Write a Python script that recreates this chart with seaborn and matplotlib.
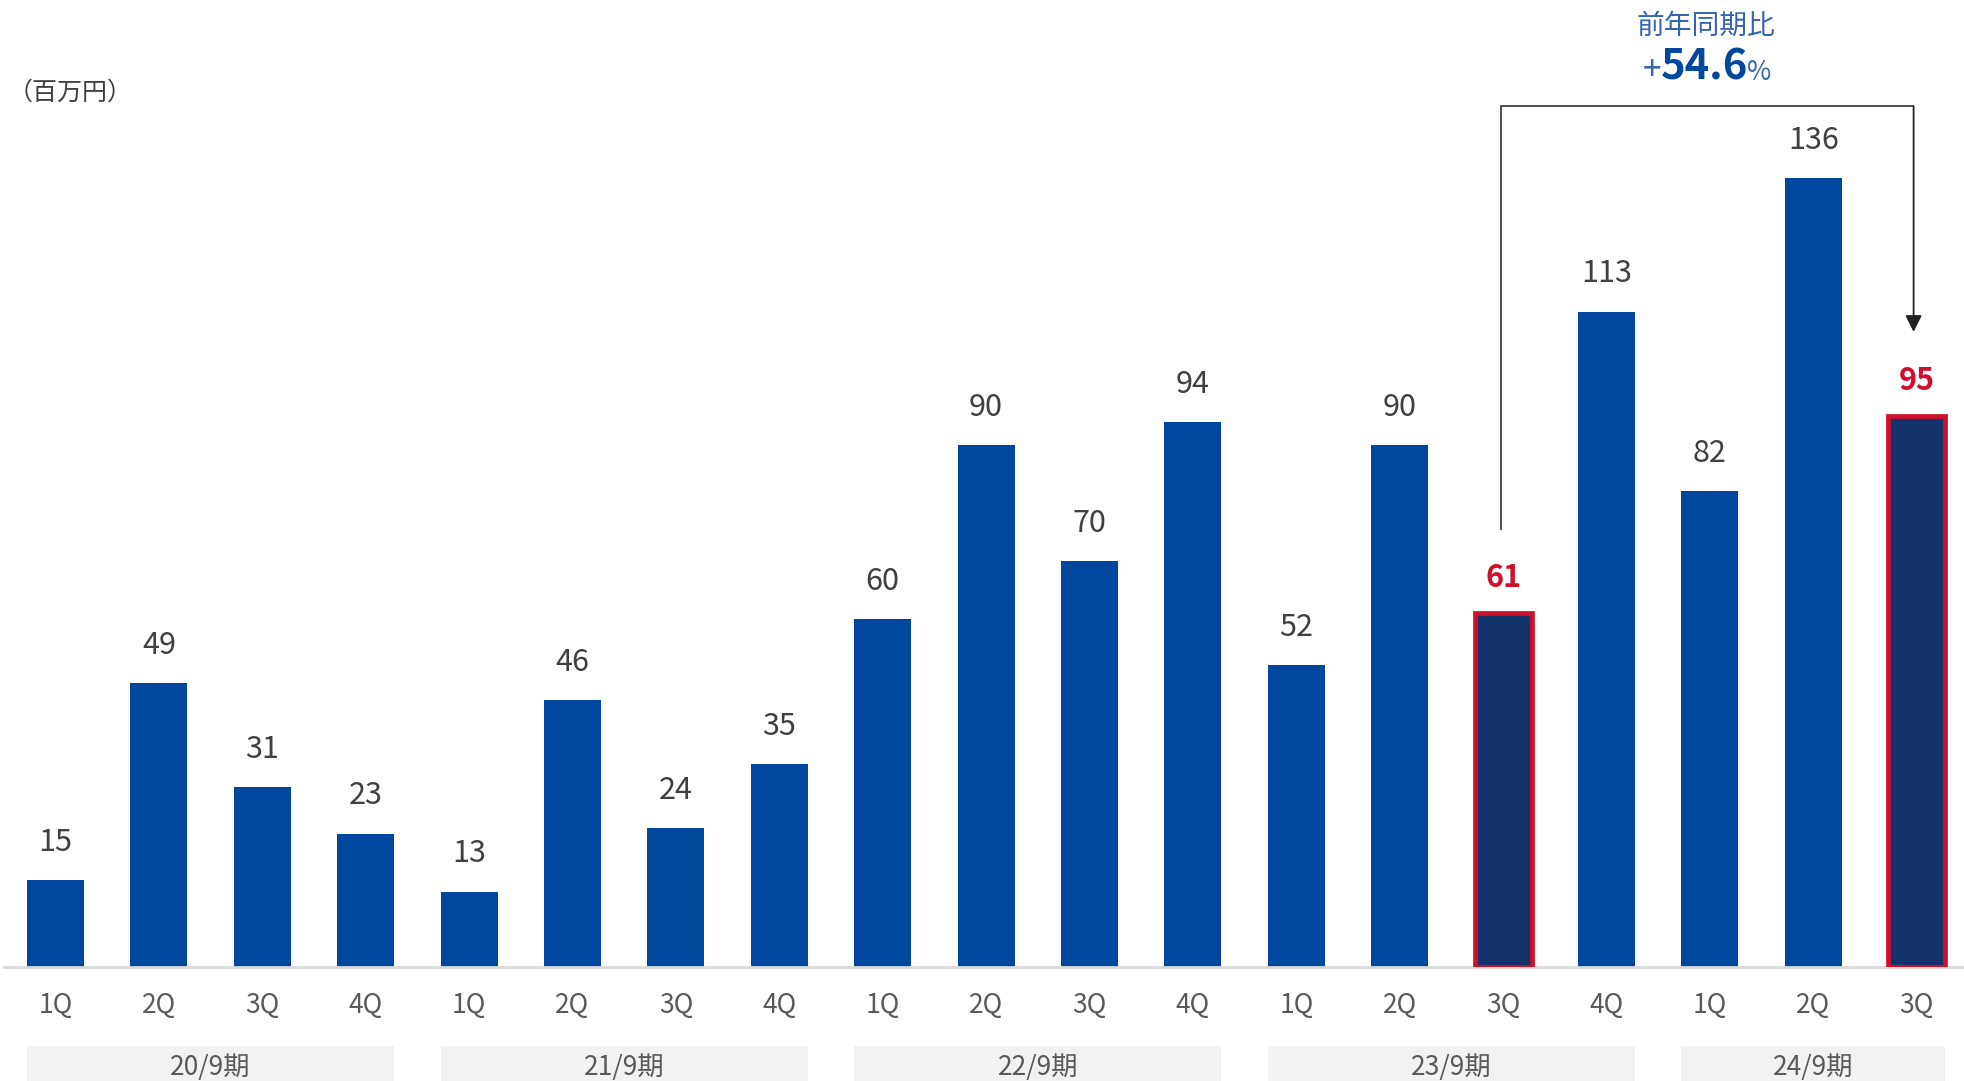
import numpy as np
import pandas as pd
import seaborn as sns
import matplotlib.pyplot as plt
import matplotlib.patches as mpatches

# ---------------- data ----------------
periods = ["20/9期", "21/9期", "22/9期", "23/9期", "24/9期"]
period_counts = [4, 4, 4, 4, 3]
quarters = ["1Q", "2Q", "3Q", "4Q"] * 4 + ["1Q", "2Q", "3Q"]
values = [15, 49, 31, 23, 13, 46, 24, 35, 60, 90, 70, 94, 52, 90, 61, 113, 82, 136, 95]
highlight = [False] * 14 + [True] + [False] * 3 + [True]
unit_label = "（百万円）"
yoy_title = "前年同期比"
yoy_value = "54.6"

# ---------------- style ----------------
sns.set_style("white")
plt.rcParams["font.family"] = ["Noto Sans CJK JP", "DejaVu Sans"]

BLUE = "#00479D"
NAVY = "#13336B"
RED = "#D0102B"
LIGHTBLUE = "#3565AE"
TEXT = "#404040"
TICK = "#595959"

keys = []
for p, n in zip(periods, period_counts):
    for q in ["1Q", "2Q", "3Q", "4Q"][:n]:
        keys.append(f"{p} {q}")
df = pd.DataFrame({"key": keys, "value": values,
                   "hl": ["hl" if h else "normal" for h in highlight]})

W, H = 1964, 1081
fig = plt.figure(figsize=(W / 100, H / 100), dpi=100)
base_px = 967
px_per_unit = 5.8
spacing = 103.4
left_px = 4
ax = fig.add_axes([left_px / W, 1 - base_px / H, 1 - left_px / W, base_px / H])

sns.barplot(data=df, x="key", y="value", hue="hl", order=keys,
            palette={"normal": BLUE, "hl": NAVY}, dodge=False, width=0.55,
            saturation=1, legend=False, ax=ax)

for p in ax.patches:
    if not np.isfinite(p.get_height()):
        continue
    i = int(round(p.get_x() + p.get_width() / 2))
    if highlight[i]:
        p.set_edgecolor(RED)
        p.set_linewidth(3.4)
        p.set_zorder(3)
    else:
        p.set_linewidth(0)

x0 = -(55.5 - left_px) / spacing
ax.set_xlim(x0, x0 + (W - left_px) / spacing)
ax.set_ylim(0, base_px / px_per_unit)

# value labels
for i, v in enumerate(values):
    if highlight[i]:
        ax.annotate(str(v), (i, v), xytext=(0, 19), textcoords="offset points",
                    ha="center", va="baseline", fontsize=22, color=RED,
                    fontweight="bold")
    else:
        ax.annotate(str(v), (i, v), xytext=(0, 21), textcoords="offset points",
                    ha="center", va="baseline", fontsize=22, color=TEXT)

# axes styling
ax.set_xticks(range(len(values)))
ax.set_xticklabels(quarters, fontsize=19, color=TICK)
ax.tick_params(axis="x", length=0, pad=18)
ax.set_yticks([])
ax.set_xlabel("")
ax.set_ylabel("")
for s in ["left", "right", "top"]:
    ax.spines[s].set_visible(False)
ax.spines["bottom"].set_color("#D9D9D9")
ax.spines["bottom"].set_linewidth(2)

# period group bands
start = 0
for p, n in zip(periods, period_counts):
    x_left = start - 0.275
    width = (n - 1) + 0.55
    rect = mpatches.Rectangle((x_left, -22), width, 22 - 13.6,
                              facecolor="#F2F2F2", edgecolor="none",
                              clip_on=False, zorder=0)
    ax.add_patch(rect)
    ax.text(start + (n - 1) / 2, -18.6, p, ha="center", va="baseline",
            fontsize=19, color=TICK, clip_on=False)
    start += n

# year-on-year bracket
i_from, i_to = 14, 18
top_y = max(values) + 12.4
ax.plot([i_from - 0.02, i_from - 0.02, i_to - 0.03], [values[i_from] + 14.3, top_y, top_y],
        color=TEXT, lw=1.3, solid_capstyle="butt", zorder=4)
ax.annotate("", xy=(i_to - 0.03, values[i_to] + 14.5), xytext=(i_to - 0.03, top_y),
            arrowprops=dict(arrowstyle="-|>", color="#222222", lw=1.3,
                            mutation_scale=25, shrinkA=0, shrinkB=0),
            zorder=4)

fig.text(1706 / W, 1 - 34 / H, yoy_title, ha="center", va="baseline",
         fontsize=20, color=LIGHTBLUE)
fig.text(1661 / W, 1 - 80 / H, "+", ha="right", va="baseline",
         fontsize=24, color=LIGHTBLUE)
fig.text(1705 / W, 1 - 80 / H, yoy_value, ha="center", va="baseline",
         fontsize=30, color=BLUE, fontweight="bold")
fig.text(1747 / W, 1 - 80 / H, "%", ha="left", va="baseline",
         fontsize=19, color=LIGHTBLUE)

fig.text(8 / W, 1 - 93 / H, unit_label, ha="left", va="center",
         fontsize=18, color=TEXT)

fig.savefig("out.png", dpi=100)
